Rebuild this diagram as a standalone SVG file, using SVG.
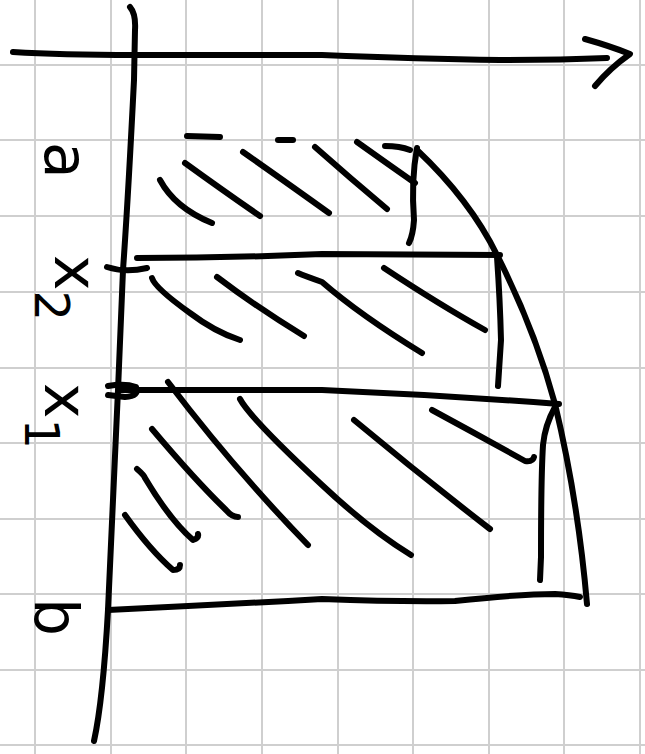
<svg xmlns="http://www.w3.org/2000/svg" width="645" height="754" viewBox="0 0 645 754">
<style>
.grid line{stroke:#cfcfcf;stroke-width:2}
.ink{fill:none;stroke:#000;stroke-width:6;stroke-linecap:round;stroke-linejoin:round}
.lbl{font-family:"DejaVu Sans",sans-serif;fill:#000;font-size:60px}
.sub{font-size:48px}
</style>
<rect width="645" height="754" fill="#fff"/>
<g id="grid" class="grid">
<line x1="35" y1="0" x2="35" y2="754"/><line x1="111" y1="0" x2="111" y2="754"/><line x1="186" y1="0" x2="186" y2="754"/><line x1="262" y1="0" x2="262" y2="754"/><line x1="338" y1="0" x2="338" y2="754"/><line x1="413" y1="0" x2="413" y2="754"/><line x1="489" y1="0" x2="489" y2="754"/><line x1="564" y1="0" x2="564" y2="754"/><line x1="640" y1="0" x2="640" y2="754"/>
<line x1="0" y1="65" x2="645" y2="65"/><line x1="0" y1="140" x2="645" y2="140"/><line x1="0" y1="216" x2="645" y2="216"/><line x1="0" y1="292" x2="645" y2="292"/><line x1="0" y1="368" x2="645" y2="368"/><line x1="0" y1="443" x2="645" y2="443"/><line x1="0" y1="519" x2="645" y2="519"/><line x1="0" y1="594" x2="645" y2="594"/><line x1="0" y1="670" x2="645" y2="670"/><line x1="0" y1="745" x2="645" y2="745"/>
</g>
<g id="axes" class="ink">
<path d="M13,52 Q60,55 135,55 L322,55 Q420,59 500,60 Q560,60 607,58"/>
<path d="M585,39 Q610,46 630,54 Q610,68 595,86"/>
<path d="M130,7 Q136,14 135,30 L134,80 Q128,200 123,270 L118,390 Q112,520 108,610 Q103,700 94,741"/>
</g>
<g id="lines" class="ink">
<path d="M187,136 L220,137"/>
<path d="M278,140 L293,140"/>
<path d="M385,146 Q400,146 410,150"/>
<path d="M417,148 Q411,180 414,220 Q413,235 409,243"/>
<path d="M107,267 Q125,273 147,268"/>
<path d="M137,258 Q230,258 322,254 L500,255"/>
<path d="M497,257 Q500,300 501,340 L498,386"/>
<path d="M108,386 Q125,383 136,387 Q140,396 125,397 L108,395"/>
<path d="M120,390 L322,390 Q440,395 559,404"/>
<path d="M555,407 Q545,425 543,445 Q541,477 541,557 L540,580"/>
<path d="M417,150 Q470,200 497,255 Q535,330 555,404 Q578,500 587,604"/>
<path d="M108,610 Q215,605 322,599 Q400,602 455,601 Q520,594 555,594 Q570,595 580,597"/>
</g>
<g id="hatching" class="ink">
<path d="M185,163 Q225,192 260,216"/>
<path d="M160,180 Q175,208 212,223"/>
<path d="M243,152 Q290,185 329,213"/>
<path d="M315,147 Q350,178 387,209"/>
<path d="M357,142 Q385,162 415,183"/>
<path d="M152,278 Q155,288 190,313 Q215,332 240,340"/>
<path d="M217,277 Q255,306 304,336"/>
<path d="M298,273 Q305,276 322,282 Q360,315 422,353"/>
<path d="M384,268 Q440,305 485,330"/>
<path d="M168,382 Q235,470 308,545"/>
<path d="M240,399 Q250,418 322,485 Q370,530 411,555"/>
<path d="M152,429 Q195,480 226,510 Q232,517 238,517"/>
<path d="M137,469 Q144,475 145,478 Q170,520 193,540 Q199,538 198,534"/>
<path d="M125,515 Q150,550 173,570 Q180,570 180,565"/>
<path d="M354,420 Q420,475 490,529"/>
<path d="M432,410 Q480,436 525,461 Q533,462 534,457"/>
</g>
<g id="labels" class="lbl">
<g id="label-a"><text transform="translate(45,142) rotate(90)">a</text></g>
<g id="label-x2"><text transform="translate(55,255) rotate(90)">x<tspan class="sub" dy="20">2</tspan></text></g>
<g id="label-x1"><text transform="translate(45,383) rotate(90)">x<tspan class="sub" dy="20">1</tspan></text></g>
<g id="label-b"><text transform="translate(35,598) rotate(90)">b</text></g>
</g>
</svg>
